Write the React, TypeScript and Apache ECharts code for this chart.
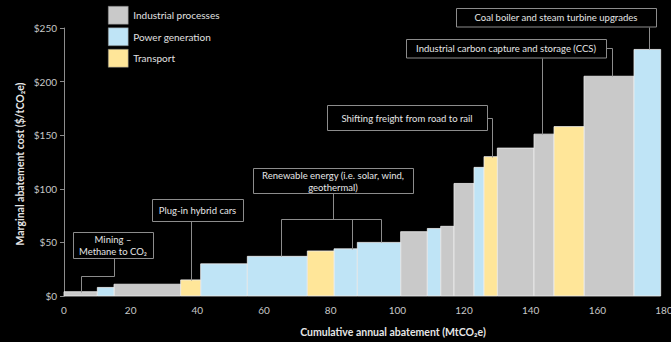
import React, { useEffect, useRef } from "react";
import * as echarts from "echarts";

const sectorNames = ["Industrial processes", "Power generation", "Transport"];
const sectorColors = ["#c9c9c9", "#bfe4f6", "#ffe699"];

// Abatement measures: cumulative start / end (MtCO2e), cost ($/tCO2e), sector index
const segStart = [0, 10, 15, 35, 41, 55, 73, 81, 88, 101, 109, 113, 117, 123, 126, 130, 141, 147, 156, 171];
const segEnd = [10, 15, 35, 41, 55, 73, 81, 88, 101, 109, 113, 117, 123, 126, 130, 141, 147, 156, 171, 179];
const costs = [4, 8, 11, 15, 30, 37, 42, 44, 50, 60, 63, 65, 105, 120, 130, 138, 151, 158, 205, 230];
const sectorOf = [0, 1, 0, 2, 1, 1, 2, 1, 1, 0, 1, 0, 0, 1, 2, 0, 0, 2, 0, 1];

const xTicks = { min: 0, max: 180, interval: 20 };
const yTicks = { min: 0, max: 250, interval: 50 };

const noteTexts = [
  "Mining –\nMethane to CO₂",
  "Plug-in hybrid cars",
  "Renewable energy (i.e. solar, wind,\ngeothermal)",
  "Shifting freight from road to rail",
  "Industrial carbon capture and storage (CCS)",
  "Coal boiler and steam turbine upgrades",
];
// data x positions on the bars each note points to
const noteTargets = [[5], [38], [65, 86.5, 95], [128.5], [143.5, 164.5], [175.5]];

const FONT = 'Lato, "Open Sans", "DejaVu Sans", sans-serif';

function barTop(x: number): number {
  for (let i = 0; i < segStart.length; i++) {
    if (x >= segStart[i] && x < segEnd[i]) return costs[i];
  }
  return 0;
}

export default function App() {
  const ref = useRef<HTMLDivElement>(null);
  useEffect(() => {
    if (!ref.current) return;
    const chart = echarts.init(ref.current, undefined, { renderer: "svg" });
    const series = sectorNames.map((name, si) => ({
      type: "custom",
      name,
      itemStyle: { color: sectorColors[si] },
      encode: { x: [0, 1], y: 2 },
      data: segStart
        .map((s, i) => [s, segEnd[i], costs[i], sectorOf[i]])
        .filter((d) => d[3] === si),
      renderItem: (params: any, api: any) => {
        const s = api.value(0), e = api.value(1), v = api.value(2);
        const p0 = api.coord([s, v]);
        const p1 = api.coord([e, 0]);
        return {
          type: "rect",
          shape: { x: p0[0], y: p0[1], width: p1[0] - p0[0], height: p1[1] - p0[1] },
          style: { fill: sectorColors[si], stroke: "#eeeeee", lineWidth: 0.8 },
        };
      },
    }));
    chart.setOption({
      animation: false,
      backgroundColor: "#000000",
      textStyle: { fontFamily: FONT },
      grid: { left: 64, right: 7, top: 28, bottom: 46, outerBoundsMode: "none", containLabel: false },
      legend: {
        orient: "vertical",
        left: 108,
        top: 6,
        padding: 0,
        itemWidth: 20,
        itemHeight: 18,
        itemGap: 3,
        icon: "rect",
        data: sectorNames,
        textStyle: { color: "#e0e0e0", fontSize: 10, fontFamily: FONT },
        itemStyle: { borderColor: "#777", borderWidth: 0.5 },
      },
      xAxis: {
        type: "value",
        ...xTicks,
        axisLine: { show: false },
        axisTick: { show: false },
        splitLine: { show: false },
        axisLabel: { color: "#c8c8c8", fontSize: 10, margin: 9, fontFamily: FONT },
      },
      yAxis: {
        type: "value",
        ...yTicks,
        axisLine: { show: true, lineStyle: { color: "#8c8c8c" } },
        axisTick: { show: true, length: 4, lineStyle: { color: "#8c8c8c" } },
        splitLine: { show: false },
        axisLabel: { color: "#c8c8c8", fontSize: 10, margin: 7, formatter: "${value}", fontFamily: FONT },
      },
      series,
    });

    const px = (x: number, y: number) => chart.convertToPixel({ gridIndex: 0 }, [x, y]) as number[];
    const tgt = noteTargets.map((arr) => arr.map((x) => px(x, barTop(x))));
    const lineStyle = { stroke: "#8c8c8c", lineWidth: 1, fill: null };
    const boxes: number[][] = [
      [73, 232, 80, 26],
      [152, 199, 91, 22],
      [253, 168, 160, 25],
      [327, 105, 160, 25],
      [406, 39, 200, 18.5],
      [456, 8, 200, 18.5],
    ];
    const polys: number[][][] = [];
    // Mining
    polys.push([[114, 258], [114, 276], [tgt[0][0][0], 276], [tgt[0][0][0], tgt[0][0][1]]]);
    // Plug-in
    polys.push([[tgt[1][0][0], 221], [tgt[1][0][0], tgt[1][0][1]]]);
    // Renewable
    polys.push([[333, 193], [333, 219]]);
    polys.push([[tgt[2][0][0], 219], [tgt[2][2][0], 219]]);
    tgt[2].forEach((p) => polys.push([[p[0], 219], [p[0], p[1]]]));
    // Freight
    polys.push([[487, 117.5], [tgt[3][0][0], 117.5], [tgt[3][0][0], tgt[3][0][1]]]);
    // CCS
    polys.push([[tgt[4][0][0], 57.5], [tgt[4][0][0], tgt[4][0][1]]]);
    polys.push([[606, 48], [tgt[4][1][0], 48], [tgt[4][1][0], tgt[4][1][1]]]);
    // Coal
    polys.push([[tgt[5][0][0], 26.5], [tgt[5][0][0], tgt[5][0][1]]]);

    const graphics: any[] = [];
    polys.forEach((pts) =>
      graphics.push({
        type: "polyline",
        silent: true,
        shape: { points: pts.map((p) => [Math.round(p[0]) + 0.5, Math.round(p[1]) + 0.5]) },
        style: lineStyle,
        z: 10,
      })
    );
    boxes.forEach((b, i) => {
      graphics.push({
        type: "rect",
        shape: { x: b[0] + 0.5, y: b[1] + 0.5, width: b[2], height: b[3] },
        style: { fill: "#000000", stroke: "#8c8c8c", lineWidth: 1 },
        z: 11,
      });
      graphics.push({
        type: "text",
        x: b[0] + b[2] / 2,
        y: b[1] + b[3] / 2 + 0.5,
        style: {
          text: noteTexts[i],
          fill: "#e6e6e6",
          fontSize: 9.5,
          fontFamily: FONT,
          align: "center",
          verticalAlign: "middle",
          lineHeight: 12,
        },
        z: 12,
      });
    });
    graphics.push({
      type: "text",
      x: 20,
      y: 164,
      rotation: Math.PI / 2,
      style: {
        text: "Marginal abatement cost ($/tCO₂e)",
        fill: "#e6e6e6",
        fontSize: 10.5,
        fontWeight: "bold",
        fontFamily: FONT,
        align: "center",
        verticalAlign: "middle",
      },
      z: 12,
    });
    graphics.push({
      type: "text",
      x: 393,
      y: 332,
      style: {
        text: "Cumulative annual abatement (MtCO₂e)",
        fill: "#e6e6e6",
        fontSize: 10.5,
        fontWeight: "bold",
        fontFamily: FONT,
        align: "center",
        verticalAlign: "middle",
      },
      z: 12,
    });
    chart.setOption({ graphic: graphics });
    return () => chart.dispose();
  }, []);
  return (
    <div
      ref={ref}
      style={{ position: "absolute", left: 0, top: 0, width: 671, height: 342 }}
    />
  );
}
